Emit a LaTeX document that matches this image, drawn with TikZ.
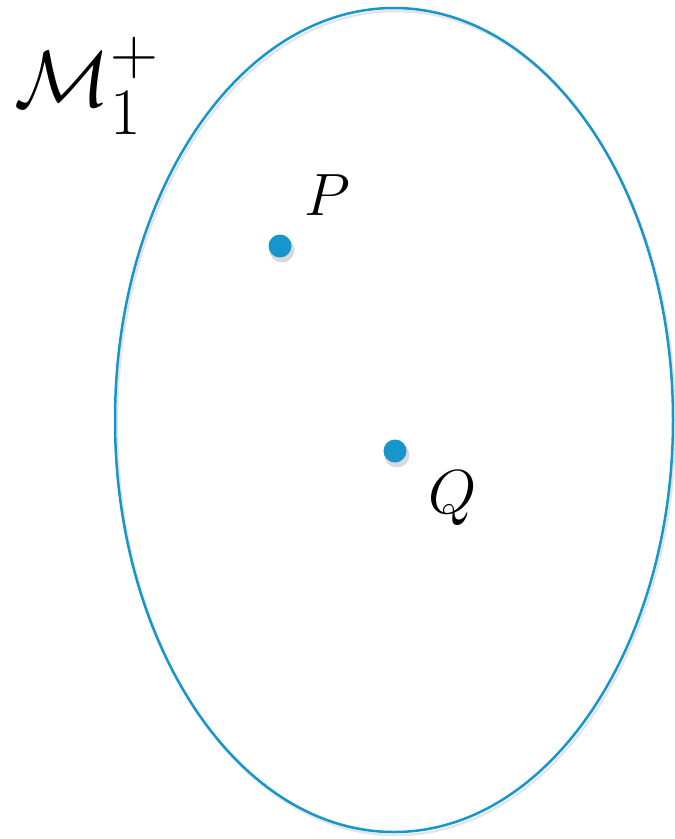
\documentclass[tikz,border=0pt]{standalone}
\usepackage{amsmath}
\usepackage{graphicx}
\begin{document}
\begin{tikzpicture}[x=1pt,y=-1pt,
  blueline/.style={draw=dotblue,line width=2.5pt},
  dotstyle/.style={circle,fill=dotblue,inner sep=0pt,minimum size=23pt},
  shadowdot/.style={circle,fill=black,opacity=0.15,inner sep=0pt,minimum size=25pt},
  biglabel/.style={inner sep=0pt}]
\definecolor{dotblue}{RGB}{22,150,202}
\useasboundingbox (0,0) rectangle (675,839);
% faint shadow of ellipse
\draw[black!10,line width=2.5pt] (396,423) ellipse [x radius=279, y radius=412];
\draw[blueline] (394,420) ellipse [x radius=279, y radius=412];
% dots
\node[shadowdot] (Ps) at (282,250) {};
\node[shadowdot] (Qs) at (397,455) {};
\node[dotstyle] (Pd) at (280,246) {};
\node[dotstyle] (Qd) at (395,451) {};
% labels
\node[biglabel] (P) at (327,195) {\scalebox{2.4}{\Huge $P$}};
\node[biglabel] (Q) at (453,498) {\scalebox{2.5}{\Huge $Q$}};
\node[biglabel] (M) at (87,86) {\scalebox{3.2}{\Huge $\mathcal{M}_1^+$}};
\end{tikzpicture}
\end{document}
